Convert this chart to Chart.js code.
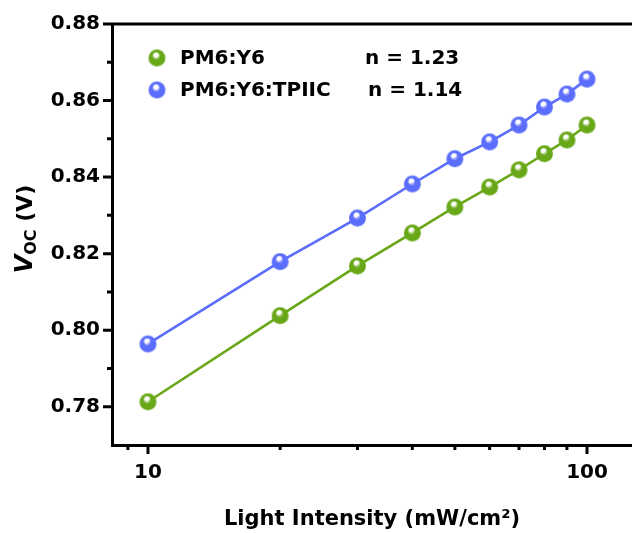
<!DOCTYPE html>
<html>
<head>
<meta charset="utf-8">
<title>Voc vs light intensity</title>
<script src="https://cdn.jsdelivr.net/npm/chart.js@4.4.1/dist/chart.umd.min.js"></script>
<style>
  html, body { margin: 0; padding: 0; background: #fff; }
  #wrap { width: 632px; height: 533px; }
</style>
</head>
<body>
<div id="wrap"><canvas id="vocChart" width="632" height="533"></canvas></div>
<script>
// light intensity (mW/cm2) and open-circuit voltage (V)
const intensity = [10, 20, 30, 40, 50, 60, 70, 80, 90, 100];
const vocY6 = [0.7813, 0.8038, 0.8168, 0.8254, 0.8322, 0.8374, 0.8419, 0.8461, 0.8497, 0.8536];
const vocTPIIC = [0.7964, 0.8179, 0.8293, 0.8382, 0.8448, 0.8492, 0.8536, 0.8583, 0.8617, 0.8656];
const seriesNames = ['PM6:Y6', 'PM6:Y6:TPIIC'];
const idealityN = ['1.23', '1.14'];
const yMajor = [0.78, 0.80, 0.82, 0.84, 0.86, 0.88];
const yMinor = [0.79, 0.81, 0.83, 0.85, 0.87];
const xMajor = [10, 100];
const xMinor = [9, 20, 30, 40, 50, 60, 70, 80, 90];

const GREEN = '#68a818';
const BLUE = '#5b6dfc';
const FONT = "'DejaVu Sans', sans-serif";

// shaded ball marker
function sphere(color, r) {
  const c = document.createElement('canvas');
  const s = r * 2 + 2;
  c.width = s; c.height = s;
  const g = c.getContext('2d');
  const cx = s / 2, cy = s / 2;
  const grad = g.createRadialGradient(cx - r * 0.15, cy - r * 0.45, 0.5, cx, cy, r);
  grad.addColorStop(0, '#ffffff');
  grad.addColorStop(0.18, 'rgba(255,255,255,0.7)');
  grad.addColorStop(0.42, color);
  grad.addColorStop(1, color);
  g.beginPath();
  g.arc(cx, cy, r, 0, Math.PI * 2);
  g.fillStyle = grad;
  g.fill();
  return c;
}
const ballGreen = sphere(GREEN, 8.5);
const ballBlue = sphere(BLUE, 8.5);

// frame ticks, top border, y title and the legend block
const decor = {
  id: 'decor',
  afterDraw(chart) {
    const { ctx, chartArea: a, scales: { x, y } } = chart;
    ctx.save();
    ctx.strokeStyle = '#000';
    ctx.lineWidth = 3;
    ctx.lineCap = 'butt';
    ctx.beginPath();
    ctx.moveTo(a.left - 1.5, a.top);
    ctx.lineTo(a.right, a.top);
    yMajor.forEach(v => { const p = y.getPixelForValue(v); ctx.moveTo(a.left - 9, p); ctx.lineTo(a.left, p); });
    yMinor.forEach(v => { const p = y.getPixelForValue(v); ctx.moveTo(a.left - 5, p); ctx.lineTo(a.left, p); });
    xMajor.forEach(v => { const p = x.getPixelForValue(v); ctx.moveTo(p, a.bottom); ctx.lineTo(p, a.bottom + 9); });
    xMinor.forEach(v => { const p = x.getPixelForValue(v); ctx.moveTo(p, a.bottom); ctx.lineTo(p, a.bottom + 5); });
    ctx.stroke();

    // rotated axis title: V_OC (V)
    ctx.translate(32, 229);
    ctx.rotate(-Math.PI / 2);
    ctx.fillStyle = '#000';
    ctx.textBaseline = 'alphabetic';
    ctx.textAlign = 'left';
    const bigF = 'italic bold 24px ' + FONT;
    const subF = 'bold 16px ' + FONT;
    const restF = 'bold 22px ' + FONT;
    ctx.font = bigF; const wV = ctx.measureText('V').width;
    ctx.font = subF; const wS = ctx.measureText('OC').width;
    ctx.font = restF; const wR = ctx.measureText(' (V)').width;
    let px = -(wV + wS + wR) / 2;
    ctx.font = bigF; ctx.fillText('V', px, 0); px += wV;
    ctx.font = subF; ctx.fillText('OC', px, 4); px += wS;
    ctx.font = restF; ctx.fillText(' (V)', px, 0);
    ctx.setTransform(1, 0, 0, 1, 0, 0);

    // legend with ideality factors
    const balls = [ballGreen, ballBlue];
    ctx.font = 'bold 20px ' + FONT;
    ctx.textBaseline = 'middle';
    seriesNames.forEach((name, i) => {
      const cy = a.top + 34 + i * 32;
      const b = balls[i];
      ctx.drawImage(b, a.left + 45 - b.width / 2, cy - b.height / 2);
      ctx.fillText(name, a.left + 68, cy + 1);
      ctx.fillText('n = ' + idealityN[i], a.left + 253 + i * 3, cy + 1);
    });
    ctx.restore();
  }
};

new Chart(document.getElementById('vocChart'), {
  type: 'line',
  data: {
    datasets: [
      {
        label: seriesNames[0],
        data: intensity.map((v, i) => ({ x: v, y: vocY6[i] })),
        borderColor: GREEN,
        borderWidth: 2.6,
        pointStyle: ballGreen,
        tension: 0
      },
      {
        label: seriesNames[1],
        data: intensity.map((v, i) => ({ x: v, y: vocTPIIC[i] })),
        borderColor: BLUE,
        borderWidth: 2.6,
        pointStyle: ballBlue,
        tension: 0
      }
    ]
  },
  options: {
    responsive: false,
    animation: false,
    layout: { autoPadding: false, padding: { top: 24, right: 0, left: 0, bottom: 0 } },
    plugins: {
      legend: { display: false },
      tooltip: { enabled: false }
    },
    scales: {
      x: {
        type: 'logarithmic',
        min: 8.28,
        max: 126.6,
        afterBuildTicks: s => { s.ticks = [9, 10, 20, 30, 40, 50, 60, 70, 80, 90, 100].map(v => ({ value: v })); },
        afterFit: s => { s.height = 88; },
        ticks: {
          autoSkip: false,
          maxRotation: 0,
          padding: 16,
          color: '#000',
          font: { family: FONT, size: 20, weight: 'bold' },
          callback: v => (xMajor.includes(v) ? String(v) : '')
        },
        grid: { display: true, drawOnChartArea: false, drawTicks: false },
        border: { display: true, width: 3, color: '#000' },
        title: {
          display: true,
          text: 'Light Intensity (mW/cm²)',
          color: '#000',
          font: { family: FONT, size: 21, weight: 'bold' },
          padding: { top: 0, bottom: 1 }
        }
      },
      y: {
        min: 0.77,
        max: 0.88,
        afterBuildTicks: s => { s.ticks = yMajor.map(v => ({ value: v })); },
        afterFit: s => { s.width = 112; },
        ticks: {
          padding: 12,
          color: '#000',
          font: { family: FONT, size: 20, weight: 'bold' },
          callback: v => v.toFixed(2)
        },
        grid: { display: true, drawOnChartArea: false, drawTicks: false },
        border: { display: true, width: 3, color: '#000' }
      }
    }
  },
  plugins: [decor]
});
</script>
</body>
</html>
